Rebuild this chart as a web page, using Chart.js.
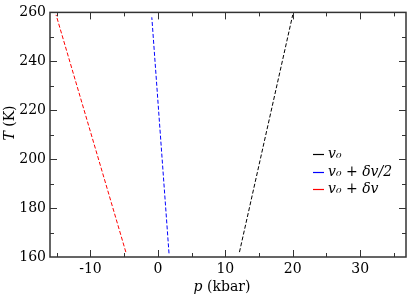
<!DOCTYPE html>
<html>
<head>
<meta charset="utf-8">
<script src="https://cdn.jsdelivr.net/npm/chart.js@4/dist/chart.umd.min.js"></script>
<style>
  html, body { margin: 0; padding: 0; background: #fff; }
  #wrap { width: 415px; height: 297px; }
</style>
</head>
<body>
<div id="wrap"><canvas id="ptChart" width="415" height="297"></canvas></div>
<script>
// series: pressure p (kbar) against temperature T (K), end points
const seriesNames = ['v₀', 'v₀ + δv/2', 'v₀ + δv'];
const seriesColors = ['#000000', '#0000ff', '#ff0000'];
const pV0 = [12.1, 20.0];
const tV0 = [162, 259];
const pHalf = [1.65, -0.9];
const tHalf = [161.5, 258];
const pFull = [-4.75, -15.1];
const tFull = [162, 259];

const xTicks = [-10, 0, 10, 20, 30];
const yTicks = [160, 180, 200, 220, 240, 260];

const serif = "'DejaVu Serif', serif";

function pts(xs, ys) {
    return xs.map((x, i) => ({ x: x, y: ys[i] }));
}

// frame, inward ticks on all four sides, axis titles and legend
const framePlugin = {
    id: 'frame',
    afterDraw(chart) {
        const c = chart.ctx;
        const a = chart.chartArea;
        const xs = chart.scales.x, ys = chart.scales.y;
        c.save();
        c.strokeStyle = '#333';
        c.lineWidth = 1.5;
        c.strokeRect(a.left, a.top, a.right - a.left, a.bottom - a.top);
        c.lineWidth = 1;
        for (let v = -15; v <= 35; v += 5) {
            const px = Math.round(xs.getPixelForValue(v)) + 0.5;
            const len = v % 10 === 0 ? 7 : 4;
            c.beginPath();
            c.moveTo(px, a.bottom); c.lineTo(px, a.bottom - len);
            c.moveTo(px, a.top); c.lineTo(px, a.top + len);
            c.stroke();
        }
        for (let v = 170; v < 260; v += 10) {
            const py = Math.round(ys.getPixelForValue(v)) + 0.5;
            const len = v % 20 === 0 ? 7 : 4;
            c.beginPath();
            c.moveTo(a.left, py); c.lineTo(a.left + len, py);
            c.moveTo(a.right, py); c.lineTo(a.right - len, py);
            c.stroke();
        }
        // axis titles
        c.fillStyle = '#000';
        c.textBaseline = 'middle';
        c.font = 'italic 14px ' + serif;
        const w1 = c.measureText('p').width;
        c.font = '14px ' + serif;
        const w2 = c.measureText(' (kbar)').width;
        let x0 = 222 - (w1 + w2) / 2;
        c.textAlign = 'left';
        c.font = 'italic 14px ' + serif;
        c.fillText('p', x0, 287);
        c.font = '14px ' + serif;
        c.fillText(' (kbar)', x0 + w1, 287);

        c.save();
        c.translate(10, 123);
        c.rotate(-Math.PI / 2);
        c.font = 'italic 14px ' + serif;
        const t1 = c.measureText('T').width;
        c.font = '14px ' + serif;
        const t2 = c.measureText(' (K)').width;
        x0 = -(t1 + t2) / 2;
        c.font = 'italic 14px ' + serif;
        c.fillText('T', x0, 0);
        c.font = '14px ' + serif;
        c.fillText(' (K)', x0 + t1, 0);
        c.restore();

        // legend
        const rows = [154, 172, 189];
        c.font = 'italic 14px ' + serif;
        c.lineWidth = 1.2;
        seriesNames.forEach((name, i) => {
            c.strokeStyle = seriesColors[i];
            c.beginPath();
            c.moveTo(313, rows[i] + 0.5); c.lineTo(324, rows[i] + 0.5);
            c.stroke();
            c.fillText(name, 328, rows[i]);
        });
        c.restore();
    }
};

const lineStyle = {
    showLine: true,
    borderWidth: 1,
    borderDash: [4, 2],
    pointRadius: 0,
    fill: false,
    tension: 0,
};

const ctx = document.getElementById('ptChart').getContext('2d');
new Chart(ctx, {
    type: 'scatter',
    data: {
        datasets: [
            { label: seriesNames[0], data: pts(pV0, tV0), borderColor: seriesColors[0], ...lineStyle },
            { label: seriesNames[1], data: pts(pHalf, tHalf), borderColor: seriesColors[1], ...lineStyle },
            { label: seriesNames[2], data: pts(pFull, tFull), borderColor: seriesColors[2], ...lineStyle },
        ]
    },
    options: {
        responsive: false,
        animation: false,
        devicePixelRatio: 1,
        layout: { padding: { left: 0, right: 9, top: 6, bottom: 0 } },
        plugins: {
            legend: { display: false },
            tooltip: { enabled: false }
        },
        scales: {
            x: {
                type: 'linear',
                min: -16,
                max: 36.8,
                grid: { display: false, drawTicks: false },
                border: { display: false },
                afterFit: (s) => { s.height = 40; },
                afterBuildTicks: (s) => { s.ticks = xTicks.map(v => ({ value: v })); },
                ticks: {
                    autoSkip: false,
                    maxRotation: 0,
                    padding: 4,
                    color: '#000',
                    font: { family: serif, size: 14 },
                    callback: (v) => String(v)
                }
            },
            y: {
                type: 'linear',
                min: 160,
                max: 260,
                grid: { display: false, drawTicks: false },
                border: { display: false },
                afterFit: (s) => { s.width = 50; },
                afterBuildTicks: (s) => { s.ticks = yTicks.map(v => ({ value: v })); },
                ticks: {
                    autoSkip: false,
                    padding: 4,
                    color: '#000',
                    font: { family: serif, size: 14 },
                    callback: (v) => String(v)
                }
            }
        }
    },
    plugins: [framePlugin]
});
</script>
</body>
</html>
